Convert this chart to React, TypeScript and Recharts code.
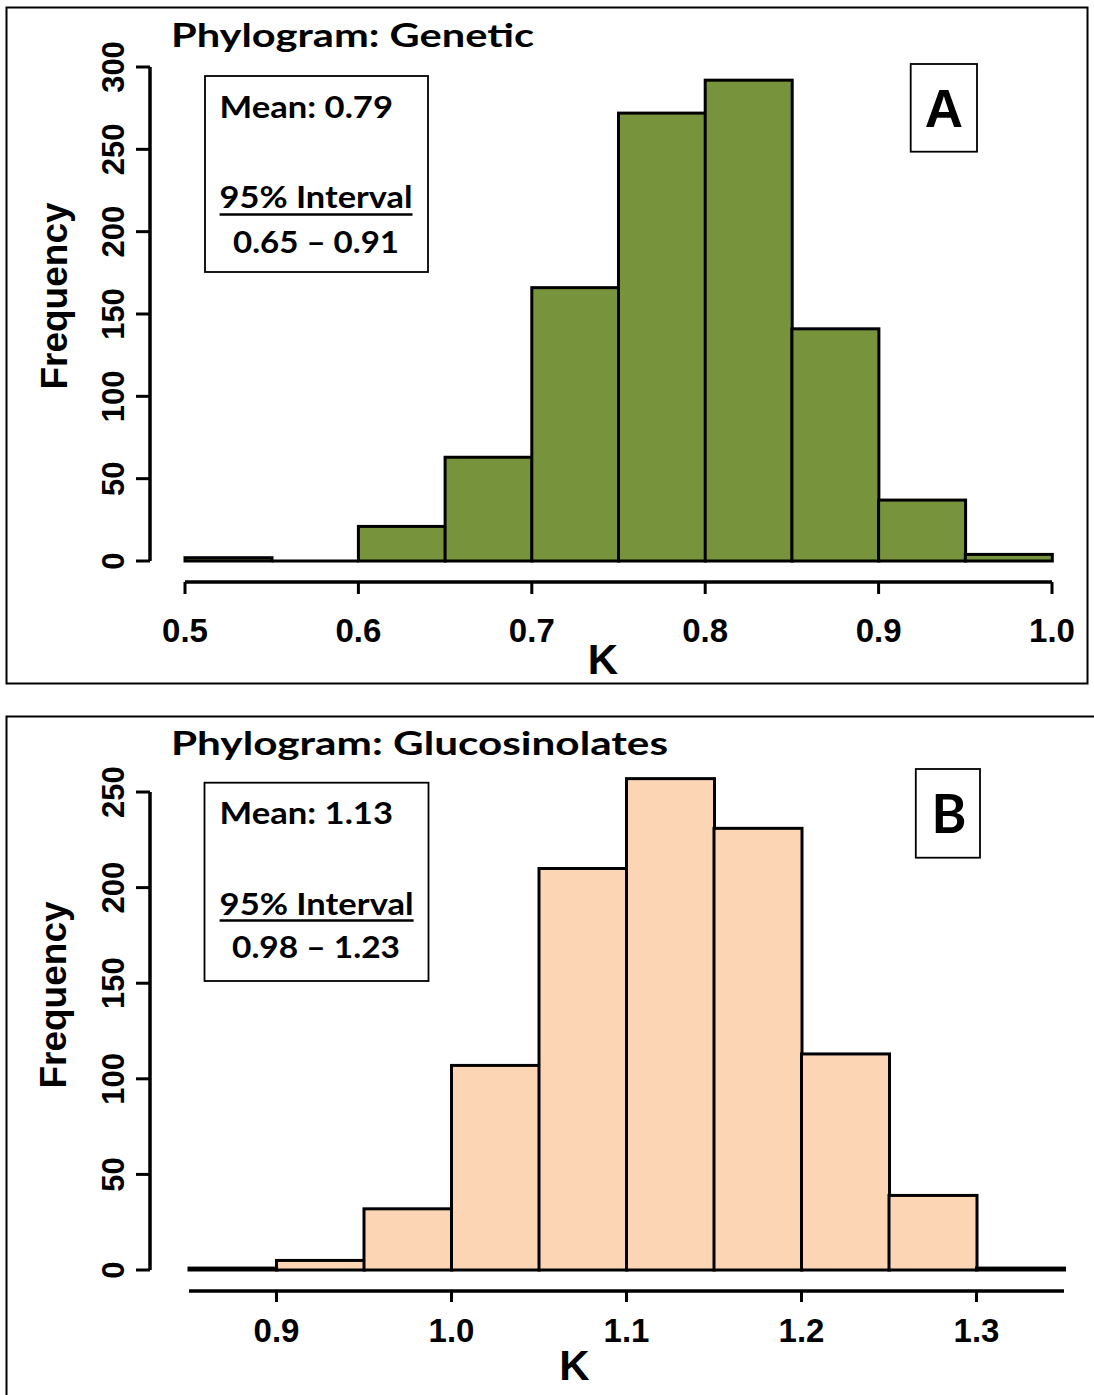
import React from 'react';
import { ComposedChart, Bar, XAxis, YAxis } from 'recharts';

// ---------- Data ----------
const geneticBins = ['0.50-0.55', '0.55-0.60', '0.60-0.65', '0.65-0.70', '0.70-0.75', '0.75-0.80', '0.80-0.85', '0.85-0.90', '0.90-0.95', '0.95-1.00'];
const geneticMids = [0.525, 0.575, 0.625, 0.675, 0.725, 0.775, 0.825, 0.875, 0.925, 0.975];
const geneticCounts = [2, 0, 21, 63, 166, 272, 292, 141, 37, 4];
const geneticXTicks = [0.5, 0.6, 0.7, 0.8, 0.9, 1.0];
const geneticYTicks = [0, 50, 100, 150, 200, 250, 300];

const glucoBins = ['0.85-0.90', '0.90-0.95', '0.95-1.00', '1.00-1.05', '1.05-1.10', '1.10-1.15', '1.15-1.20', '1.20-1.25', '1.25-1.30', '1.30-1.35'];
const glucoMids = [0.875, 0.925, 0.975, 1.025, 1.075, 1.125, 1.175, 1.225, 1.275, 1.325];
const glucoCounts = [1, 5, 32, 107, 210, 257, 231, 113, 39, 1];
const glucoXTicks = [0.9, 1.0, 1.1, 1.2, 1.3];
const glucoYTicks = [0, 50, 100, 150, 200, 250];

const geneticData = geneticBins.map((bin, i) => ({ bin, mid: geneticMids[i], count: geneticCounts[i] }));
const glucoData = glucoBins.map((bin, i) => ({ bin, mid: glucoMids[i], count: glucoCounts[i] }));

// ---------- Styles ----------
const ARIAL = "'Liberation Sans', Arial, sans-serif";
const CALIBRI = "Lato, 'Open Sans', sans-serif";
const GREEN = '#77933C';
const PEACH = '#FCD5B5';

const HistBar = (props: any) => {
  const { x, y, width, height, fill } = props;
  if (x == null || y == null || !width) return null;
  const h = Math.abs(height || 0);
  const top = height < 0 ? y + height : y;
  if (h < 0.5) {
    return <line x1={x} x2={x + width} y1={top + h} y2={top + h} stroke="#000" strokeWidth={3} />;
  }
  return <rect x={x} y={top} width={width} height={h} fill={fill} stroke="#000" strokeWidth={3} />;
};

const YTick = (props: any) => {
  const { x, y, payload } = props;
  return (
    <text
      transform={`translate(${x - 12},${y}) rotate(-90)`}
      textAnchor="middle"
      fontFamily={ARIAL}
      fontWeight={700}
      fontSize={31}
      fill="#000"
    >
      {payload.value}
    </text>
  );
};

const makeXTick = (dy: number) => (props: any) => {
  const { x, y, payload } = props;
  return (
    <text x={x} y={y + dy} textAnchor="middle" fontFamily={ARIAL} fontWeight={700} fontSize={33} fill="#000">
      {Number(payload.value).toFixed(1)}
    </text>
  );
};

type HistProps = {
  data: any[];
  fill: string;
  yDomainMax: number;
  yTicks: number[];
  yLineGap: number;
  xDomain: [number, number];
  xTicks: number[];
  height: number;
  marginTop: number;
  marginRight: number;
  gapWidth: number;
  catHeight: number;
  numHeight: number;
  xTickSize: number;
  xLabelDy: number;
};

const Histogram = (p: HistProps) => (
  <ComposedChart
    width={1094}
    height={p.height}
    data={p.data}
    margin={{ top: p.marginTop, right: p.marginRight, bottom: 0, left: 0 }}
    barCategoryGap={0}
    barGap={0}
  >
    <XAxis xAxisId="cat" dataKey="bin" type="category" height={p.catHeight} tick={false} tickLine={false} axisLine={false} />
    <XAxis
      xAxisId="num"
      dataKey="mid"
      type="number"
      domain={p.xDomain}
      allowDataOverflow
      ticks={p.xTicks}
      interval={0}
      height={p.numHeight}
      tickSize={p.xTickSize}
      tickMargin={0}
      tick={makeXTick(p.xLabelDy)}
      axisLine={{ stroke: '#000', strokeWidth: 3.5 }}
      tickLine={{ stroke: '#000', strokeWidth: 3 }}
    />
    <YAxis yAxisId="gap" width={p.gapWidth} domain={[0, p.yDomainMax]} tick={false} tickLine={false} axisLine={false} />
    <YAxis
      yAxisId="main"
      width={150}
      domain={[0, p.yDomainMax]}
      ticks={p.yTicks}
      interval={0}
      tickSize={14}
      tickMargin={0}
      tick={<YTick />}
      axisLine={{ stroke: '#000', strokeWidth: 3.5, strokeDasharray: p.yLineGap > 0 ? `0 ${p.yLineGap} 3000` : undefined }}
      tickLine={{ stroke: '#000', strokeWidth: 3 }}
    />
    <Bar xAxisId="cat" yAxisId="main" dataKey="count" fill={p.fill} shape={<HistBar />} isAnimationActive={false} />
  </ComposedChart>
);

const Overlay = () => (
  <svg width={1094} height={1395} style={{ position: 'absolute', left: 0, top: 0, pointerEvents: 'none' }}>
    {/* panel borders */}
    <rect x={6.5} y={7.5} width={1081} height={676} fill="none" stroke="#000" strokeWidth={2} />
    <rect x={6.5} y={716.5} width={1100} height={700} fill="none" stroke="#000" strokeWidth={2} />

    {/* ---- Panel A ---- */}
    <text x={171} y={46.7} textLength={363} lengthAdjust="spacingAndGlyphs" fontFamily={CALIBRI} fontWeight={700} fontSize={32} fill="#000">
      Phylogram: Genetic
    </text>
    <rect x={205} y={76} width={223} height={196} fill="#fff" stroke="#000" strokeWidth={1.8} />
    <text x={219.6} y={118.3} textLength={173.4} lengthAdjust="spacingAndGlyphs" fontFamily={CALIBRI} fontWeight={700} fontSize={29.5} fill="#000">
      Mean: 0.79
    </text>
    <text x={219.6} y={208.3} textLength={192.9} lengthAdjust="spacingAndGlyphs" fontFamily={CALIBRI} fontWeight={700} fontSize={29.5} fill="#000">
      95% Interval
    </text>
    <line x1={219.6} x2={412.5} y1={214.5} y2={214.5} stroke="#000" strokeWidth={2.5} />
    <text x={233} y={253} textLength={166} lengthAdjust="spacingAndGlyphs" fontFamily={CALIBRI} fontWeight={700} fontSize={29.5} fill="#000">
      0.65 – 0.91
    </text>
    <rect x={910.7} y={64} width={66.3} height={87.7} fill="#fff" stroke="#000" strokeWidth={1.8} />
    <text x={944} y={126.7} textAnchor="middle" fontFamily={ARIAL} fontWeight={700} fontSize={53} fill="#000">
      A
    </text>
    <text transform="translate(67,296) rotate(-90)" textAnchor="middle" fontFamily={ARIAL} fontWeight={700} fontSize={37} fill="#000">
      Frequency
    </text>
    <text x={603} y={674} textAnchor="middle" fontFamily={ARIAL} fontWeight={700} fontSize={42} fill="#000">
      K
    </text>

    {/* ---- Panel B ---- */}
    <text x={171} y={755} textLength={497} lengthAdjust="spacingAndGlyphs" fontFamily={CALIBRI} fontWeight={700} fontSize={32} fill="#000">
      Phylogram: Glucosinolates
    </text>
    <rect x={204.5} y={782.7} width={224} height={198.3} fill="#fff" stroke="#000" strokeWidth={1.8} />
    <text x={219.6} y={824} textLength={173.4} lengthAdjust="spacingAndGlyphs" fontFamily={CALIBRI} fontWeight={700} fontSize={29.5} fill="#000">
      Mean: 1.13
    </text>
    <text x={219.6} y={914.5} textLength={194} lengthAdjust="spacingAndGlyphs" fontFamily={CALIBRI} fontWeight={700} fontSize={29.5} fill="#000">
      95% Interval
    </text>
    <line x1={219.6} x2={413.6} y1={920.5} y2={920.5} stroke="#000" strokeWidth={2.5} />
    <text x={232} y={958} textLength={168} lengthAdjust="spacingAndGlyphs" fontFamily={CALIBRI} fontWeight={700} fontSize={29.5} fill="#000">
      0.98 – 1.23
    </text>
    <rect x={915.8} y={769} width={64.2} height={88.7} fill="#fff" stroke="#000" strokeWidth={1.8} />
    <text x={949} y={833.3} textAnchor="middle" fontFamily={CALIBRI} fontWeight={700} fontSize={53} fill="#000">
      B
    </text>
    <text transform="translate(66,995) rotate(-90)" textAnchor="middle" fontFamily={ARIAL} fontWeight={700} fontSize={37} fill="#000">
      Frequency
    </text>
    <text x={574.5} y={1380} textAnchor="middle" fontFamily={ARIAL} fontWeight={700} fontSize={42} fill="#000">
      K
    </text>
  </svg>
);

export default function App() {
  return (
    <div style={{ position: 'absolute', left: 0, top: 0, width: 1094, height: 1395, background: '#fff', overflow: 'hidden' }}>
      <div style={{ position: 'absolute', left: 0, top: 0 }}>
        <Histogram
          data={geneticData}
          fill={GREEN}
          yDomainMax={300}
          yTicks={geneticYTicks}
          yLineGap={0}
          xDomain={[0.5, 1.0]}
          xTicks={geneticXTicks}
          height={700}
          marginTop={67}
          marginRight={42}
          gapWidth={35}
          catHeight={21}
          numHeight={118}
          xTickSize={12}
          xLabelDy={48}
        />
      </div>
      <div style={{ position: 'absolute', left: 0, top: 700 }}>
        <Histogram
          data={glucoData}
          fill={PEACH}
          yDomainMax={260}
          yTicks={glucoYTicks}
          yLineGap={19.1}
          xDomain={[0.85, 1.35]}
          xTicks={glucoXTicks}
          height={695}
          marginTop={72.9}
          marginRight={30}
          gapWidth={39}
          catHeight={21}
          numHeight={104}
          xTickSize={11}
          xLabelDy={40}
        />
      </div>
      <Overlay />
    </div>
  );
}
